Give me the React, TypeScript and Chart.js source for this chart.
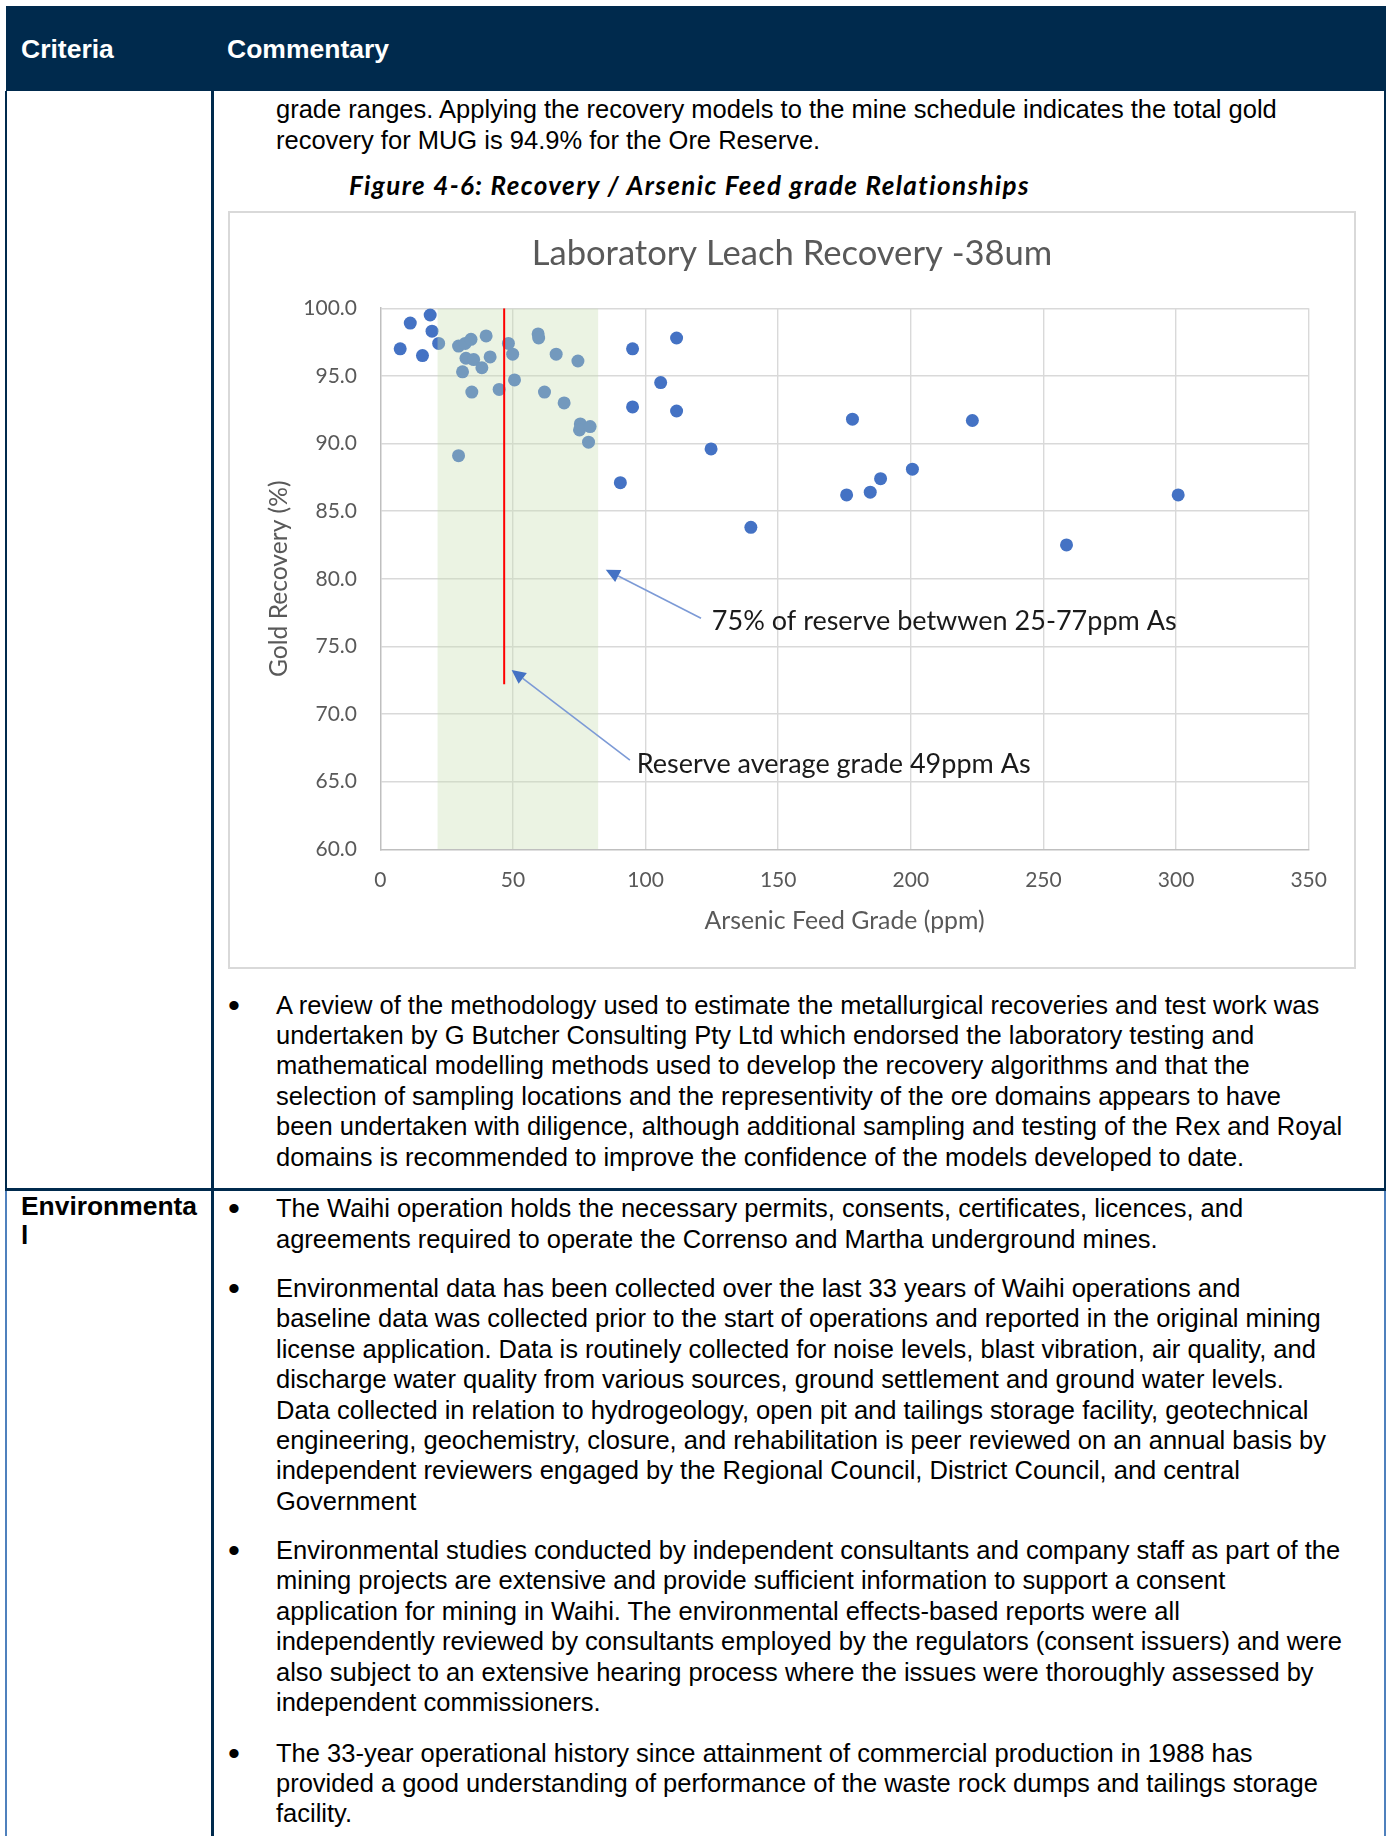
import React, { useEffect, useRef } from "react";
import { Chart, registerables } from "chart.js";

Chart.register(...registerables);

// ---------------- data ----------------
const chartTitle = "Laboratory Leach Recovery -38um";
const xAxisTitle = "Arsenic Feed Grade (ppm)";
const yAxisTitle = "Gold Recovery (%)";

const arsenicPpm = [
  7.5, 11.3, 18.8, 19.5, 15.9,
  22.0, 29.5, 32.0, 34.2, 39.9, 32.3, 35.2, 38.3, 41.4, 31.0, 34.5, 44.8, 48.3, 49.9, 50.6,
  59.5, 59.7, 66.3, 74.5, 61.9, 69.3, 75.4, 75.1, 79.1, 78.5, 29.5,
  95.1, 95.1, 90.5, 105.7, 111.7, 111.7, 124.7, 139.7,
  178.0, 223.2, 200.6, 188.6, 184.7, 175.8, 300.8, 258.7,
];
const recoveryPct = [
  97.0, 98.9, 99.5, 98.3, 96.5,
  97.4, 97.2, 97.4, 97.7, 97.95, 96.3, 96.2, 95.6, 96.4, 95.3, 93.8, 94.0, 97.4, 96.6, 94.7,
  98.1, 97.8, 96.6, 96.1, 93.8, 93.0, 91.45, 91.0, 91.25, 90.1, 89.1,
  97.0, 92.7, 87.1, 94.5, 97.8, 92.4, 89.6, 83.8,
  91.8, 91.7, 88.1, 87.4, 86.4, 86.2, 86.2, 82.5,
];

const xTickLabels = ["0", "50", "100", "150", "200", "250", "300", "350"];
const yTickLabels = ["60.0", "65.0", "70.0", "75.0", "80.0", "85.0", "90.0", "95.0", "100.0"];
const xMin = 0, xMax = 350, xStep = 50;
const yMin = 60, yMax = 100, yStep = 5;

// shaded reserve range (fills down to axis minimum)
const reserveBandPpm = [21.5, 82.2];
const reserveBandRecovery = [100, 100];
// reserve average grade marker line
const averageGradePpm = [46.7, 46.7];
const averageGradeRecovery = [100, 72.2];

// callouts
const calloutTexts = ["75% of reserve betwwen 25-77ppm As", "Reserve average grade 49ppm As"];
const calloutTextPpm = [125.0, 96.7];
const calloutTextRecovery = [76.88, 66.31];
const arrowFromPpm = [120.9, 94.1];
const arrowFromRecovery = [77.08, 66.6];
const arrowToPpm = [85.0, 49.5];
const arrowToRecovery = [80.67, 73.26];

// ---------------- page text ----------------
const para0 = [
  "grade ranges. Applying the recovery models to the mine schedule indicates the total gold",
  "recovery for MUG is 94.9% for the Ore Reserve.",
];
const caption = "Figure 4-6: Recovery / Arsenic Feed grade Relationships";
const bullet1 = [
  "A review of the methodology used to estimate the metallurgical recoveries and test work was",
  "undertaken by G Butcher Consulting Pty Ltd which endorsed the laboratory testing and",
  "mathematical modelling methods used to develop the recovery algorithms and that the",
  "selection of sampling locations and the representivity of the ore domains appears to have",
  "been undertaken with diligence, although additional sampling and testing of the Rex and Royal",
  "domains is recommended to improve the confidence of the models developed to date.",
];
const envLabel = ["Environmenta", "l"];
const envB1 = [
  "The Waihi operation holds the necessary permits, consents, certificates, licences, and",
  "agreements required to operate the Correnso and Martha underground mines.",
];
const envB2 = [
  "Environmental data has been collected over the last 33 years of Waihi operations and",
  "baseline data was collected prior to the start of operations and reported in the original mining",
  "license application. Data is routinely collected for noise levels, blast vibration, air quality, and",
  "discharge water quality from various sources, ground settlement and ground water levels.",
  "Data collected in relation to hydrogeology, open pit and tailings storage facility, geotechnical",
  "engineering, geochemistry, closure, and rehabilitation is peer reviewed on an annual basis by",
  "independent reviewers engaged by the Regional Council, District Council, and central",
  "Government",
];
const envB3 = [
  "Environmental studies conducted by independent consultants and company staff as part of the",
  "mining projects are extensive and provide sufficient information to support a consent",
  "application for mining in Waihi. The environmental effects-based reports were all",
  "independently reviewed by consultants employed by the regulators (consent issuers) and were",
  "also subject to an extensive hearing process where the issues were thoroughly assessed by",
  "independent commissioners.",
];
const envB4 = [
  "The 33-year operational history since attainment of commercial production in 1988 has",
  "provided a good understanding of performance of the waste rock dumps and tailings storage",
  "facility.",
];

const NAVY = "#002a4d";
const LIGHTBLUE = "#4f81bd";
const BODY_FONT = '"Liberation Sans", Arial, sans-serif';
const LINE_H = 30.44;
const FONT_SIZE = 25.5;
const TEXT_LEFT = 276;

const calloutPlugin = {
  id: "calloutArrows",
  afterDatasetsDraw(chart: any) {
    const { ctx } = chart;
    const xs = chart.scales.x;
    const ys = chart.scales.y;
    ctx.save();
    for (let i = 0; i < calloutTexts.length; i++) {
      const x1 = xs.getPixelForValue(arrowFromPpm[i]);
      const y1 = ys.getPixelForValue(arrowFromRecovery[i]);
      const x2 = xs.getPixelForValue(arrowToPpm[i]);
      const y2 = ys.getPixelForValue(arrowToRecovery[i]);
      const ang = Math.atan2(y2 - y1, x2 - x1);
      const headLen = 14;
      const headHalf = 6.8;
      const bx = x2 - headLen * Math.cos(ang);
      const by = y2 - headLen * Math.sin(ang);
      ctx.strokeStyle = "#7c9ad6";
      ctx.lineWidth = 1.6;
      ctx.beginPath();
      ctx.moveTo(x1, y1);
      ctx.lineTo(bx, by);
      ctx.stroke();
      ctx.fillStyle = "#4472c4";
      ctx.beginPath();
      ctx.moveTo(x2, y2);
      ctx.lineTo(bx + headHalf * Math.sin(ang), by - headHalf * Math.cos(ang));
      ctx.lineTo(bx - headHalf * Math.sin(ang), by + headHalf * Math.cos(ang));
      ctx.closePath();
      ctx.fill();
      ctx.font = "27px Lato";
      ctx.fillStyle = "#1a1a1a";
      ctx.textBaseline = "middle";
      ctx.textAlign = "left";
      ctx.fillText(
        calloutTexts[i],
        xs.getPixelForValue(calloutTextPpm[i]),
        ys.getPixelForValue(calloutTextRecovery[i])
      );
    }
    ctx.restore();
  },
};

function ScatterChart() {
  const ref = useRef<HTMLCanvasElement | null>(null);
  useEffect(() => {
    if (!ref.current) return;
    const gridColor = (c: any, min: number) =>
      c.tick && c.tick.value === min ? "rgba(0,0,0,0)" : "#d9d9d9";
    const chart = new Chart(ref.current, {
      type: "scatter",
      data: {
        datasets: [
          {
            type: "scatter",
            label: "Recovery",
            data: arsenicPpm.map((v, i) => ({ x: v, y: recoveryPct[i] })),
            backgroundColor: "#4472c4",
            borderWidth: 0,
            pointRadius: 6.5,
            pointHoverRadius: 6.5,
            order: 3,
          } as any,
          {
            type: "line",
            label: "Reserve range",
            data: reserveBandPpm.map((v, i) => ({ x: v, y: reserveBandRecovery[i] })),
            showLine: true,
            fill: "start",
            backgroundColor: "rgba(200,222,178,0.36)",
            borderColor: "rgba(0,0,0,0)",
            borderWidth: 0,
            pointRadius: 0,
            order: 2,
          } as any,
          {
            type: "line",
            label: "Average grade",
            data: averageGradePpm.map((v, i) => ({ x: v, y: averageGradeRecovery[i] })),
            showLine: true,
            fill: false,
            borderColor: "#ff0000",
            borderWidth: 2,
            pointRadius: 0,
            order: 1,
          } as any,
        ],
      },
      options: {
        animation: false,
        responsive: false,
        maintainAspectRatio: false,
        devicePixelRatio: 1,
        events: [],
        layout: { padding: { left: 0, right: 0, top: 0, bottom: 0 } },
        plugins: {
          legend: { display: false },
          tooltip: { enabled: false },
          filler: { drawTime: "beforeDatasetDraw" },
          title: {
            display: true,
            text: chartTitle,
            color: "#595959",
            font: { family: "Lato", size: 34.6, weight: "normal" },
            padding: { top: 20.0, bottom: 33.7 },
          },
        } as any,
        scales: {
          x: {
            type: "linear",
            min: xMin,
            max: xMax,
            ticks: {
              stepSize: xStep,
              autoSkip: false,
              maxRotation: 0,
              color: "#595959",
              font: { family: "Lato", size: 21 },
              padding: 18.5,
              callback: (_v: any, i: number) => xTickLabels[i],
            },
            grid: { color: (c: any) => gridColor(c, xMin), lineWidth: 1.4, drawTicks: false },
            border: { display: true, color: "#bfbfbf", width: 1.5 },
            title: {
              display: true,
              text: xAxisTitle,
              color: "#595959",
              font: { family: "Lato", size: 24.8 },
              padding: { top: 0, bottom: 31.5 },
            },
            afterFit: (s: any) => {
              s.height = 117.7;
            },
          },
          y: {
            type: "linear",
            min: yMin,
            max: yMax,
            ticks: {
              stepSize: yStep,
              color: "#595959",
              font: { family: "Lato", size: 21 },
              padding: 23.3,
              callback: (_v: any, i: number) => yTickLabels[i],
            },
            grid: { color: (c: any) => gridColor(c, yMin), lineWidth: 1.4, drawTicks: false },
            border: { display: true, color: "#bfbfbf", width: 1.5 },
            title: {
              display: true,
              text: yAxisTitle,
              color: "#595959",
              font: { family: "Lato", size: 24.6 },
              padding: { top: 34.2, bottom: 0 },
            },
            afterFit: (s: any) => {
              s.width = 150.3;
            },
          },
          yRight: {
            type: "linear",
            position: "right",
            display: true,
            grid: { display: false },
            ticks: { display: false },
            border: { display: false },
            afterFit: (s: any) => {
              s.width = 45.3;
            },
          },
        } as any,
      },
      plugins: [calloutPlugin],
    } as any);
    if ((document as any).fonts && (document as any).fonts.load) {
      Promise.all([
        (document as any).fonts.load("34px Lato"),
        (document as any).fonts.load("21px Lato"),
      ])
        .then(() => chart.update())
        .catch(() => {});
    }
    return () => chart.destroy();
  }, []);
  return (
    <canvas
      ref={ref}
      width={1124}
      height={754}
      style={{ position: "absolute", left: 230, top: 213, width: 1124, height: 754 }}
    />
  );
}

function Lines({
  left,
  top,
  lines,
  size = FONT_SIZE,
  lh = LINE_H,
  bold = false,
  color = "#000",
}: {
  left: number;
  top: number;
  lines: string[];
  size?: number;
  lh?: number;
  bold?: boolean;
  color?: string;
}) {
  return (
    <div
      style={{
        position: "absolute",
        left,
        top,
        fontSize: size,
        lineHeight: lh + "px",
        whiteSpace: "pre",
        fontWeight: bold ? 700 : 400,
        color,
        fontFamily: BODY_FONT,
      }}
    >
      {lines.map((l, i) => (
        <div key={i}>{l}</div>
      ))}
    </div>
  );
}

function Bullet({ center, lines }: { center: number; lines: string[] }) {
  return (
    <>
      <div
        style={{
          position: "absolute",
          left: 228,
          top: center - 17,
          fontSize: 34,
          lineHeight: "34px",
          fontFamily: BODY_FONT,
          color: "#000",
        }}
      >
        •
      </div>
      <Lines left={TEXT_LEFT} top={center - 15} lines={lines} />
    </>
  );
}

function Rect({ l, t, w, h, c }: { l: number; t: number; w: number; h: number; c: string }) {
  return <div style={{ position: "absolute", left: l, top: t, width: w, height: h, background: c }} />;
}

export default function App() {
  return (
    <div
      style={{
        position: "absolute",
        left: 0,
        top: 0,
        width: 1392,
        height: 1836,
        overflow: "hidden",
        background: "#fff",
        fontFamily: BODY_FONT,
      }}
    >
      {/* header */}
      <Rect l={6} t={6} w={1380} h={85} c={NAVY} />
      <Lines left={21} top={34} lines={["Criteria"]} size={26.5} lh={30} bold color="#fff" />
      <Lines left={227} top={34} lines={["Commentary"]} size={26.5} lh={30} bold color="#fff" />

      {/* upper row borders */}
      <Rect l={5} t={91} w={2.2} h={1098} c={NAVY} />
      <Rect l={211} t={91} w={2.5} h={1098} c={NAVY} />
      <Rect l={1384} t={91} w={2.2} h={1098} c={NAVY} />
      {/* row divider */}
      <Rect l={5} t={1188.2} w={1381} h={2.5} c={NAVY} />
      {/* environmental row borders */}
      <Rect l={5} t={1190.7} w={2.2} h={700} c={LIGHTBLUE} />
      <Rect l={211} t={1190.7} w={2.5} h={700} c={NAVY} />
      <Rect l={1384} t={1190.7} w={2.2} h={700} c={LIGHTBLUE} />

      <Lines left={TEXT_LEFT} top={108.9 - 14.5} lines={para0} />
      <div
        style={{
          position: "absolute",
          left: 349,
          top: 169.5,
          fontFamily: "Lato",
          fontStyle: "italic",
          fontWeight: 700,
          fontSize: 26,
          lineHeight: "31px",
          letterSpacing: "1.4px",
          whiteSpace: "pre",
          color: "#000",
        }}
      >
        {caption}
      </div>

      {/* chart box */}
      <div
        style={{
          position: "absolute",
          left: 228,
          top: 211,
          width: 1128,
          height: 758,
          boxSizing: "border-box",
          border: "2px solid #d9d9d9",
          background: "#fff",
        }}
      />
      <ScatterChart />

      <Bullet center={1004.5} lines={bullet1} />

      <Lines left={21} top={1207 - 15.5} lines={envLabel} size={26.4} lh={29.5} bold />
      <Bullet center={1208.2} lines={envB1} />
      <Bullet center={1287.8} lines={envB2} />
      <Bullet center={1550} lines={envB3} />
      <Bullet center={1752.6} lines={envB4} />
    </div>
  );
}
